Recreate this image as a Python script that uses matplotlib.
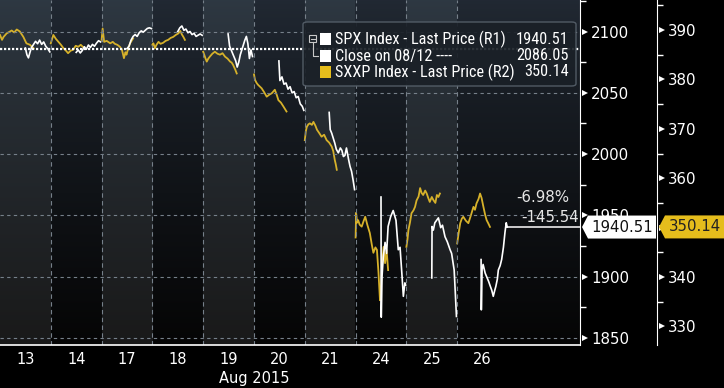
import numpy as np
import matplotlib
matplotlib.use('Agg')
import matplotlib.pyplot as plt
import matplotlib.transforms as mtransforms
from matplotlib import font_manager
from matplotlib.patches import Polygon, FancyBboxPatch, Rectangle
from matplotlib.lines import Line2D
from matplotlib.ticker import MultipleLocator, FormatStrFormatter

# ---- data ----
days = ['13', '14', '17', '18', '19', '20', '21', '24', '25', '26']

# SPX intraday: position inside each day (0..1) and price
spx_frac = [
    [0.50, 0.53, 0.56, 0.59, 0.62, 0.66, 0.70, 0.74, 0.78, 0.82, 0.86, 0.90, 0.94, 0.98],
    [0.50, 0.54, 0.58, 0.62, 0.66, 0.70, 0.74, 0.78, 0.82, 0.86, 0.90, 0.94, 0.98],
    [0.50, 0.54, 0.58, 0.62, 0.66, 0.70, 0.74, 0.78, 0.82, 0.86, 0.90, 0.94, 0.98],
    [0.50, 0.54, 0.58, 0.62, 0.66, 0.70, 0.74, 0.78, 0.82, 0.86, 0.90, 0.94, 0.98],
    [0.49, 0.52, 0.55, 0.58, 0.61, 0.64, 0.67, 0.70, 0.73, 0.76, 0.79, 0.82, 0.85, 0.88, 0.91, 0.94, 0.97],
    [0.49, 0.51, 0.55, 0.59, 0.63, 0.67, 0.71, 0.75, 0.79, 0.83, 0.87, 0.91, 0.95, 0.98],
    [0.48, 0.50, 0.53, 0.56, 0.59, 0.62, 0.66, 0.70, 0.73, 0.76, 0.79, 0.82, 0.86, 0.89, 0.92, 0.95, 0.98],
    [0.50, 0.505, 0.52, 0.545, 0.58, 0.61, 0.64, 0.69, 0.74, 0.795, 0.84, 0.875, 0.91, 0.94, 0.97, 0.985],
    [0.50, 0.505, 0.53, 0.56, 0.63, 0.675, 0.71, 0.76, 0.805, 0.86, 0.89, 0.94, 0.96, 0.985],
    [0.47, 0.475, 0.49, 0.51, 0.55, 0.58, 0.62, 0.645, 0.68, 0.71, 0.74, 0.76, 0.79, 0.81, 0.845, 0.875, 0.91, 0.94, 0.965, 0.985],
]
spx_vals = [
    [2086.5, 2081, 2078.5, 2083, 2087, 2089.5, 2092, 2090, 2093, 2089.5, 2091.5, 2088, 2086, 2083.4],
    [2083, 2085, 2082.5, 2084.5, 2087.6, 2085.5, 2089, 2087, 2089.5, 2088, 2090.5, 2092.5, 2091.5],
    [2086, 2088, 2093, 2096, 2097.5, 2096, 2099, 2100.5, 2099.5, 2101, 2102.5, 2103, 2102.4],
    [2100, 2103, 2104.5, 2101, 2102, 2099, 2100, 2097.5, 2098.5, 2096, 2097, 2098, 2096.9],
    [2098, 2088, 2085, 2082, 2079, 2076, 2071, 2075, 2081, 2085, 2089, 2093, 2096, 2090, 2078, 2085, 2079.6],
    [2076, 2060, 2063, 2057, 2058, 2053, 2055, 2050, 2051, 2046, 2047, 2041, 2039, 2035.7],
    [2034, 2020, 2017, 2013, 2009, 2004, 2001, 2005, 2003, 1998, 1999, 2005, 1996, 1990, 1986, 1979, 1971],
    [1965, 1867, 1900, 1916, 1928, 1919, 1941, 1949, 1954, 1946, 1922, 1924, 1903, 1884, 1895, 1893.2],
    [1899, 1941, 1938, 1944, 1948, 1940, 1942, 1932.6, 1928.5, 1922, 1919, 1905.5, 1889, 1867.6],
    [1914, 1873, 1906, 1910, 1903, 1900, 1896, 1893, 1889, 1884, 1889, 1892, 1898, 1905.5, 1909, 1914, 1924, 1936, 1944, 1940.51],
]

# SXXP intraday
sxxp_frac = [
    [0.0, 0.04, 0.07, 0.13, 0.18, 0.23, 0.28, 0.33, 0.39, 0.46, 0.52, 0.59, 0.66],
    [0.0, 0.05, 0.10, 0.15, 0.20, 0.25, 0.30, 0.34, 0.39, 0.44, 0.49, 0.54, 0.59, 0.64],
    [0.0, 0.02, 0.05, 0.10, 0.17, 0.22, 0.26, 0.31, 0.36, 0.40, 0.44, 0.47, 0.49, 0.53, 0.56, 0.62],
    [0.0, 0.02, 0.05, 0.08, 0.12, 0.16, 0.21, 0.26, 0.31, 0.36, 0.41, 0.46, 0.51, 0.55, 0.58, 0.61, 0.64],
    [0.0, 0.04, 0.07, 0.10, 0.13, 0.18, 0.23, 0.28, 0.33, 0.38, 0.43, 0.48, 0.53, 0.56, 0.59, 0.63, 0.66],
    [0.0, 0.02, 0.05, 0.08, 0.12, 0.15, 0.20, 0.25, 0.30, 0.35, 0.41, 0.45, 0.48, 0.53, 0.58, 0.61, 0.64],
    [0.0, 0.02, 0.04, 0.07, 0.10, 0.14, 0.17, 0.21, 0.24, 0.28, 0.33, 0.38, 0.43, 0.48, 0.53, 0.56, 0.59, 0.61, 0.63],
    [0.0, 0.01, 0.03, 0.05, 0.08, 0.12, 0.16, 0.19, 0.23, 0.28, 0.32, 0.35, 0.39, 0.42, 0.45, 0.48, 0.50, 0.52, 0.55, 0.58, 0.61, 0.64],
    [0.0, 0.02, 0.04, 0.07, 0.10, 0.14, 0.17, 0.20, 0.24, 0.27, 0.30, 0.33, 0.37, 0.40, 0.43, 0.46, 0.50, 0.53, 0.57, 0.60, 0.63, 0.66],
    [0.0, 0.03, 0.06, 0.09, 0.12, 0.17, 0.22, 0.27, 0.32, 0.35, 0.38, 0.42, 0.45, 0.48, 0.51, 0.55, 0.58, 0.61, 0.645],
]
sxxp_vals = [
    [389, 388, 388.6, 389.3, 389.6, 389.9, 389.5, 390.1, 389.7, 388.6, 387.3, 387, 386.3],
    [387.3, 389, 388.2, 387.6, 387, 386.3, 385.8, 385.3, 385.8, 386, 386.8, 386.6, 387, 386.5],
    [388, 390.3, 387.6, 387.8, 387.3, 387.6, 387.2, 387, 386.6, 386, 384.3, 385.5, 385, 386.5, 387.3, 388.3],
    [387, 387.3, 386.3, 387, 387.6, 387.2, 387.4, 387.8, 388, 388.4, 388.6, 389, 389.3, 389.8, 389.1, 388.6, 388],
    [385.6, 384.4, 383.6, 384.2, 384.6, 385.2, 385.6, 385.2, 385, 385.3, 384.6, 384.2, 383.6, 383.4, 382.9, 382, 381.2],
    [381, 379.9, 379.3, 378.9, 378.5, 378.2, 377.4, 376.5, 376.9, 377.2, 377.9, 376.8, 375.8, 375.3, 374.5, 374, 373.5],
    [367.7, 369.5, 370.4, 370.9, 371.1, 370.8, 371.4, 370.6, 369.8, 369.2, 368.4, 368.8, 367.7, 367.2, 366.4, 365.5, 363.7, 362.8, 361.7],
    [348, 353, 351, 351.5, 350.6, 350.2, 351.4, 352.2, 350.6, 348.9, 346.5, 344.9, 346, 345.5, 341, 335.3, 338, 342.1, 346.1, 342.8, 345.5, 341.4],
    [346.1, 347.5, 349.5, 351, 352.9, 353.5, 354.2, 355.5, 356.3, 358, 357, 356.6, 357.5, 356.9, 356, 355.2, 356.2, 355.6, 355, 356.6, 356.2, 356.9],
    [346.8, 349, 350.9, 351.8, 352.2, 351.4, 350.9, 352.5, 354.2, 353.6, 354.9, 355.8, 356.9, 356, 354.5, 352.6, 351.5, 350.9, 350.14],
]

spx_last = 1940.51
sxxp_last = 350.14
prev_close = 2086.05
chg_pct = '-6.98%'
chg_abs = '-145.54'
legend_rows = ['SPX Index - Last Price (R1)', 'Close on 08/12 ----', 'SXXP Index - Last Price (R2)']
legend_vals = ['1940.51', '2086.05', '350.14']

# ---- layout ----
W, H = 724, 388
def fx(x):
    return x / W
def fy(y):
    return 1 - y / H

yellow = '#d6b12a'
gridc = '#76808a'
numfont = 'DejaVu Sans'

# legend uses a narrow face; pick what's installed
installed = {f.name for f in font_manager.fontManager.ttflist}
if 'Roboto Condensed' in installed:
    narrow, legsize = ['Roboto Condensed', 'DejaVu Sans'], 11.7
elif 'Roboto' in installed:
    narrow, legsize = ['Roboto', 'DejaVu Sans'], 10
else:
    narrow, legsize = ['DejaVu Sans'], 8.6

fig = plt.figure(figsize=(W / 100, H / 100), dpi=100, facecolor='black')
ax = fig.add_axes([0, fy(345), fx(580), 345 / H])
ax2 = ax.twinx()
ax.set_zorder(ax2.get_zorder() + 1)
ax.patch.set_visible(False)

xmax = 580 / 50.8
r1 = (1844.3, 2125.7)
r2 = (326.24, 396.07)

# background: vertical gradient + alternating day bands
nx, ny = 580, 345
xs = np.linspace(0, xmax, nx)
light = ((np.floor(xs) % 2) == 0) & (xs < 10)
t = np.linspace(0, 1, ny)[:, None, None] ** 0.85
lt_top, lt_bot = np.array([0.18, 0.22, 0.26]), np.array([0.10, 0.10, 0.10])
dk_top, dk_bot = np.array([0.13, 0.16, 0.20]), np.array([0.02, 0.02, 0.02])
top = np.where(light[None, :, None], lt_top, dk_top)
bot = np.where(light[None, :, None], lt_bot, dk_bot)
img = top * (1 - t) + bot * t
ax2.imshow(img, extent=[0, xmax, r2[0], r2[1]], aspect='auto', origin='upper',
           interpolation='nearest', zorder=0)

# series
for i in range(len(days)):
    ax2.plot(i + np.array(sxxp_frac[i]), sxxp_vals[i], color=yellow, lw=1.3, zorder=2)
    ax.plot(i + np.array(spx_frac[i]), spx_vals[i], color='white', lw=1.2, zorder=4)
ax.plot([9 + spx_frac[-1][-1], xmax], [spx_last, spx_last], color='white', lw=1.1, zorder=4)

# grid
for i in range(1, len(days)):
    ax.axvline(i, color=gridc, lw=0.8, ls=(0, (4, 3)), zorder=1)
for v in np.arange(1850, 2101, 50):
    ax.axhline(v, color=gridc, lw=0.8, ls=(0, (3, 3)), zorder=1)
ax.axhline(prev_close, color='white', lw=1.6, ls=(0, (1, 0.8)), zorder=3)

ax.set_xlim(0, xmax)
ax.set_ylim(*r1)
ax2.set_ylim(*r2)

# axes styling
for s in ['top', 'left']:
    ax.spines[s].set_visible(False)
    ax2.spines[s].set_visible(False)
ax2.spines['bottom'].set_visible(False)
ax.spines['bottom'].set_color('white')
ax.spines['bottom'].set_linewidth(1.2)
ax.spines['right'].set_color('white')
ax2.spines['right'].set_color('white')
ax2.spines['right'].set_position(('axes', 657 / 580))

ax.set_xticks(np.arange(len(days)) + 0.5)
ax.set_xticklabels(days)
ax.tick_params(axis='x', length=0, pad=5, labelcolor='white', labelsize=10.5)
for lab in ax.get_xticklabels():
    lab.set_family(numfont)
ax.text(5.0, -(378 - 345) / 345, 'Aug 2015', transform=mtransforms.blended_transform_factory(ax.transData, ax.transAxes),
        ha='center', va='center', color='white', fontsize=10.5, family=numfont)

ax.yaxis.tick_right()
ax.yaxis.set_major_locator(MultipleLocator(50))
ax.yaxis.set_minor_locator(MultipleLocator(25))
ax.yaxis.set_major_formatter(FormatStrFormatter('%d'))
ax.tick_params(axis='y', which='major', length=0, pad=8, labelcolor='white', labelsize=10.8)
ax.tick_params(axis='y', which='minor', length=4, width=1, color='white', direction='out')

ax2.yaxis.set_major_locator(MultipleLocator(10))
ax2.yaxis.set_minor_locator(MultipleLocator(5))
ax2.yaxis.set_major_formatter(FormatStrFormatter('%d'))
ax2.tick_params(axis='y', which='major', length=0, pad=8, labelcolor='white', labelsize=10.8)
ax2.tick_params(axis='y', which='minor', length=4, width=1, color='white', direction='out')

# triangular major tick marks
tr1 = mtransforms.blended_transform_factory(ax.transAxes, ax.transData)
t1 = np.arange(1850, 2101, 50)
ax.plot(np.full(len(t1), 584.5 / 580), t1, ls='none', marker='>', ms=5, mew=0,
        color='white', transform=tr1, clip_on=False)
tr2 = mtransforms.blended_transform_factory(ax2.transAxes, ax2.transData)
t2 = np.arange(330, 391, 10)
ax2.plot(np.full(len(t2), 661.5 / 580), t2, ls='none', marker='>', ms=5, mew=0,
         color='white', transform=tr2, clip_on=False)

# change annotations
fig.text(fx(569), fy(198), chg_pct, ha='right', va='center', color='#e6e6e6', fontsize=10.8, family=numfont)
fig.text(fx(579), fy(217), chg_abs, ha='right', va='center', color='#e6e6e6', fontsize=10.8, family=numfont)

# last value tags
to_fig = fig.transFigure.inverted()
def tag(x0, x1, yval, axis, fc, label, tc):
    yc = to_fig.transform(axis.transData.transform((0, yval)))[1]
    hh = 11.5 / H
    pts = [(fx(x0), yc), (fx(x0 + 6), yc + hh), (fx(x1), yc + hh), (fx(x1), yc - hh), (fx(x0 + 6), yc - hh)]
    fig.add_artist(Polygon(pts, closed=True, fc=fc, ec='none', transform=fig.transFigure, zorder=5))
    fig.text(fx((x0 + 6 + x1) / 2), yc, label, ha='center', va='center', color=tc,
             fontsize=10.8, family=numfont, zorder=6)

tag(582, 656, spx_last, ax, 'white', '1940.51', '#111111')
tag(659, 724, sxxp_last, ax2, '#e5bd1c', '350.14', '#222222')

# legend box
fig.add_artist(FancyBboxPatch((fx(303), fy(86)), fx(273), 64 / H,
                              boxstyle='round,pad=0,rounding_size=0.006', transform=fig.transFigure,
                              fc='#1a2027', ec='#56606a', lw=1, alpha=0.92, zorder=5))
rows_y = [39, 56, 72]
sq_colors = ['white', 'white', '#e5bd1c']
for k in range(3):
    fig.add_artist(Rectangle((fx(320), fy(rows_y[k] + 6)), fx(11), 12 / H, fc=sq_colors[k], ec='none',
                             transform=fig.transFigure, zorder=6))
    fig.text(fx(335), fy(rows_y[k]), legend_rows[k], ha='left', va='center', color='white',
             fontsize=legsize, family=narrow, zorder=6)
    fig.text(fx(569), fy(rows_y[k]), legend_vals[k], ha='right', va='center', color='white',
             fontsize=legsize, family=narrow, zorder=6)
# tree icon
icol = '#c8c8c8'
fig.add_artist(Rectangle((fx(309), fy(42)), fx(7), 7 / H, fc='none', ec=icol, lw=0.8,
                         transform=fig.transFigure, zorder=6))
fig.add_artist(Line2D([fx(310.5), fx(314.5)], [fy(38.5), fy(38.5)], color=icol, lw=0.8,
                      transform=fig.transFigure, zorder=6))
fig.add_artist(Line2D([fx(312.5), fx(312.5), fx(318)], [fy(42), fy(56), fy(56)], color=icol, lw=0.8,
                      transform=fig.transFigure, zorder=6))

fig.savefig('out.png', dpi=100, facecolor='black')
